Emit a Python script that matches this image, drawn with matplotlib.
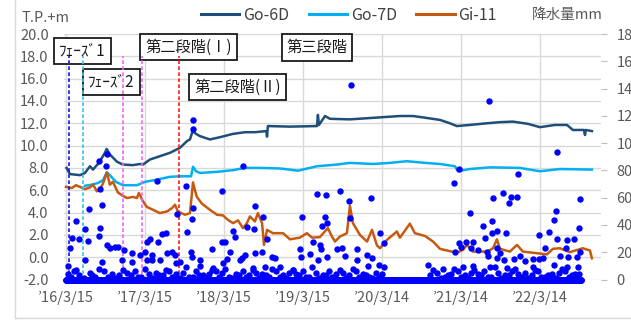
import numpy as np
import pandas as pd
import matplotlib
matplotlib.use('Agg')
import matplotlib.pyplot as plt
from matplotlib.lines import Line2D

plt.rcParams['font.family'] = ['Noto Sans CJK JP', 'DejaVu Sans']

# all days are counted from 2016-03-15
START = pd.Timestamp('2016-03-15')

series_names = ['Go-6D', 'Go-7D', 'Gi-11']
line_colors = ['#1F4E79', '#00B0F0', '#C55A11']

# groundwater level, T.P.+m
go6d_day = [3, 18, 65, 88, 111, 125, 152, 180, 188, 203, 236, 263, 310, 342, 356, 388, 434, 480,
            527, 559, 573, 585, 601, 619, 665, 711, 772, 827, 873, 926, 929, 933, 1035, 1160,
            1164, 1169, 1197, 1220, 1312, 1428, 1543, 1603, 1659, 1728, 1774, 1806, 1866, 1945,
            2005, 2065, 2134, 2190, 2259, 2315, 2342, 2393, 2398, 2402, 2430]
go6d_lvl = [8.0, 7.45, 7.35, 7.55, 8.15, 7.85, 8.45, 9.35, 9.7, 9.2, 8.55, 8.3, 8.25, 8.35, 8.3,
            8.75, 9.05, 9.35, 9.8, 10.4, 10.55, 11.3, 11.05, 10.85, 10.55, 10.75, 11.05, 11.2,
            11.2, 11.3, 10.8, 11.75, 11.7, 11.75, 12.75, 11.85, 12.65, 12.4, 12.35, 12.5, 12.65,
            12.65, 12.5, 12.3, 12.0, 11.75, 11.85, 12.0, 12.1, 12.15, 11.95, 11.65, 11.85, 11.85,
            11.4, 11.4, 10.95, 11.4, 11.3]

go7d_day = [88, 120, 148, 171, 189, 203, 231, 263, 328, 365, 420, 480, 527, 578, 587, 601, 619,
            698, 772, 827, 896, 989, 1072, 1160, 1252, 1312, 1418, 1497, 1575, 1659, 1728, 1797,
            1811, 1866, 1959, 2097, 2190, 2282, 2430]
go7d_lvl = [6.4, 6.5, 6.65, 6.9, 7.6, 7.35, 6.75, 6.45, 6.45, 6.75, 6.95, 7.2, 7.25, 7.25, 8.1,
            7.7, 7.55, 7.65, 7.8, 8.0, 8.0, 7.95, 7.75, 8.15, 8.3, 8.45, 8.35, 8.45, 8.6, 8.45,
            8.35, 8.15, 7.7, 7.9, 8.05, 8.0, 7.7, 7.9, 7.85]

gi11_day = [0, 28, 46, 65, 88, 111, 125, 143, 157, 171, 189, 203, 217, 240, 263, 282, 310, 328,
            337, 356, 374, 402, 434, 467, 490, 504, 517, 550, 573, 587, 596, 605, 628, 665, 698,
            725, 748, 772, 795, 818, 836, 850, 873, 887, 906, 915, 929, 956, 1003, 1035, 1081,
            1113, 1137, 1173, 1210, 1229, 1243, 1266, 1298, 1312, 1326, 1358, 1391, 1414, 1437,
            1451, 1483, 1529, 1543, 1589, 1612, 1659, 1696, 1728, 1760, 1806, 1834, 1853, 1880,
            1945, 1973, 1991, 2005, 2051, 2084, 2111, 2157, 2222, 2250, 2282, 2328, 2388, 2421,
            2430]
gi11_lvl = [6.3, 6.2, 6.45, 6.3, 6.1, 6.25, 6.5, 5.9, 6.1, 6.6, 7.6, 6.5, 6.75, 5.8, 5.5, 5.3,
            5.4, 5.3, 5.75, 5.0, 4.5, 4.25, 3.95, 4.1, 4.4, 4.7, 4.1, 3.8, 3.95, 6.7, 6.0, 5.4,
            4.8, 4.25, 3.8, 3.75, 3.35, 3.05, 3.3, 2.6, 3.05, 3.65, 3.2, 3.95, 3.05, 1.1, 2.45,
            2.15, 2.15, 1.6, 1.75, 2.15, 1.75, 1.8, 2.6, 1.85, 1.4, 1.85, 2.15, 4.6, 3.05, 2.0,
            1.4, 2.45, 1.05, 0.8, 1.55, 2.3, 1.75, 3.0, 2.15, 1.9, 1.4, 0.75, 0.6, 0.4, 0.65, 1.1,
            0.5, 0.5, 0.8, 1.6, 0.75, 0.5, 1.1, 0.5, 0.4, 0.25, 0.75, 0.8, 0.45, 0.8, 0.6, -0.1]

# daily rainfall, mm (days without rain are 0 over the whole record)
dry_first = '2016-03-15'
dry_last = '2022-09-20'
rain_day = [1317, 1956, 2267, 1817, 2090, 1793, 585, 586, 188, 154, 183, 422, 816, 554, 719, 159,
            588, 873, 1158, 1201, 1266, 1307, 1409, 1974, 2020, 2056, 2082, 2048, 2375, 2265, 1866,
            511, 108, 165, 838, 869, 911, 1089, 46, 581, 1197, 1205, 1181, 1312, 927, 1451, 1469,
            1140, 1174, 1177, 1081, 1251, 1274, 1343, 873, 827, 904, 812, 950, 966, 1084, 1127,
            1166, 1207, 1289, 1389, 1413, 1448, 1469, 1397, 989, 1050, 865, 919, 558, 462, 442,
            388, 376, 426, 90, 157, 154, 26, 61, 18, 103, 770, 781, 719, 735, 673, 758, 188, 203,
            226, 242, 269, 304, 365, 342, 396, 434, 465, 488, 504, 576, 581, 527, 619, 742, 678,
            11, 88, 257, 165, 304, 373, 396, 508, 619, 727, 804, 1343,
            2254, 1925, 1967, 1969, 1990, 2033, 2185, 2231, 2371, 2270, 1936, 1818, 1846, 1880,
            1823, 1796, 1870, 1905, 1944, 1951, 1992, 2005, 1990, 2025, 2071, 2097, 2120, 2159,
            2213, 2206, 2187, 2317, 2309, 2347, 2375, 2282, 2320, 2359, 1674, 1744, 1836, 1882,
            1960, 2036, 2159, 2254, 2317, 2367]
rain_mm = [142.6, 130.9, 93.8, 81.2, 77.0, 70.8, 117.2, 110.6, 92.0, 86.7, 83.0, 72.0, 83.0, 68.2,
           65.1, 66.7, 52.2, 54.1, 62.7, 62.2, 65.1, 57.8, 59.5, 60.0, 63.2, 60.7, 60.7, 55.9,
           59.0, 50.4, 48.5, 48.0, 51.7, 54.3, 38.3, 36.8, 46.0, 46.0, 43.1, 44.1, 45.6, 41.2,
           39.5, 44.9, 29.5, 33.9, 26.5, 27.7, 25.3, 22.1, 22.1, 22.1, 23.3, 22.1, 19.6, 18.0,
           20.4, 15.5, 16.7, 15.5, 16.3, 18.7, 14.3, 16.3, 17.2, 18.0, 15.5, 10.6, 8.9, 9.9, 8.9,
           7.0, 8.2, 9.4, 35.0, 34.3, 33.1, 29.5, 27.7, 27.7, 37.2, 37.5, 31.9, 30.2, 29.5, 22.9,
           28.2, 35.8, 31.4, 27.7, 27.7, 22.1, 20.4, 25.3, 22.9, 24.0, 24.0, 21.6, 19.2, 20.4,
           18.0, 18.0, 14.3, 19.2, 20.4, 18.0, 20.4, 16.7, 13.1, 14.3, 14.8, 8.2, 9.9, 14.3, 14.3,
           13.1, 13.1, 14.3, 14.3, 11.9, 9.9, 11.9, 14.3, 14.3,
           43.6, 39.2, 42.9, 33.9, 35.6, 34.3, 32.6, 35.0, 37.5, 29.5, 30.2, 27.0, 27.7, 27.3,
           24.0, 20.4, 22.9, 21.6, 20.4, 17.2, 22.9, 19.6, 15.5, 14.3, 14.8, 17.2, 13.8, 14.8,
           22.9, 15.5, 14.8, 29.0, 22.9, 29.5, 20.4, 17.2, 16.7, 16.7, 10.6, 7.5, 8.9, 9.9, 9.4,
           8.2, 8.9, 10.6, 8.9, 8.9]
# light rain that thickens the band along the bottom
drizzle_day = [9, 37, 60, 111, 134, 176, 213, 245, 282, 319, 347, 383, 416, 448, 476, 508, 541,
               568, 601, 633, 661, 693, 721, 753, 785, 818, 845, 878, 906, 938, 970, 1003, 1030,
               1063, 1095, 1123, 1155, 1187, 1215, 1247, 1280, 1307, 1340, 1372, 1400, 1432, 1460,
               1682, 1714, 1751, 1779, 1811, 1843, 1871, 1903, 1931, 1964, 1996, 2028, 2061, 2088,
               2121, 2153, 2181, 2213, 2245, 2278, 2305, 2338, 2370,
               23, 48, 85, 122, 155, 195, 229, 263, 300, 333, 365, 400, 432, 462, 492, 525, 555,
               585, 617, 647, 677, 707, 737, 769, 801, 832, 862, 892, 922, 954, 987, 1017, 1047,
               1079, 1109, 1139, 1171, 1201, 1231, 1264, 1294, 1324, 1356, 1386, 1416, 1446,
               1698, 1733, 1765, 1795, 1827, 1857, 1887, 1917, 1948, 1980, 2012, 2045, 2075,
               2105, 2137, 2167, 2197, 2229, 2262, 2292, 2322, 2354]
drizzle_mm = [4, 6, 3, 5, 2, 6, 4, 3, 5, 6, 2, 4, 5, 3, 6, 4, 5, 2, 6, 3, 4, 6, 5, 2, 4, 6, 3, 5,
              4, 2, 6, 3, 5, 4, 6, 2, 5, 3, 6, 4, 5, 3, 6, 4, 2, 5, 4,
              3, 5, 2, 4, 6, 3, 5, 4, 6, 2, 5, 3, 6, 4, 5, 3, 6, 2, 4, 5, 6, 3, 4,
              2, 7, 1, 3, 8, 2, 1, 7, 3, 2, 8, 1, 3, 7, 2, 1, 9, 2, 3, 1, 7, 2, 8, 1, 3, 2, 7,
              1, 3, 8, 2, 1, 7, 3, 2, 9, 1, 3, 2, 7, 1, 8, 2, 3, 1,
              2, 7, 1, 3, 8, 2, 1, 7, 3, 2, 9, 1, 3, 8, 2, 1, 7, 2, 3, 1, 8, 2, 4]

# construction phases: dashed markers and labelled boxes
phase_day = [15, 80, 265, 353, 522]
phase_colors = ['#1414E6', '#33C3F0', '#F266F2', '#F266F2', '#FF1A1A']
label_text = ['ﾌｪｰｽﾞ1', 'ﾌｪｰｽﾞ2', '第二段階(Ⅰ)', '第二段階(Ⅱ)', '第三段階']
label_day = [76, 210, 566, 792, 1160]
label_lvl = [18.48, 15.7, 18.84, 15.25, 18.8]

tick_dates = ['2016-03-15', '2017-03-15', '2018-03-15', '2019-03-15',
              '2020-03-14', '2021-03-14', '2022-03-14']
tick_labels = ['’16/3/15', '’17/3/15', '’18/3/15', '’19/3/15',
               '’20/3/14', '’21/3/14', '’22/3/14']


def to_dates(days):
    return START + pd.to_timedelta(np.asarray(days), unit='D')


W, H = 631, 322
fig = plt.figure(figsize=(W / 100, H / 100), dpi=100)
ax = fig.add_axes([64 / W, 1 - 279.5 / H, (601 - 64) / W, (279.5 - 34) / H])
ax2 = ax.twinx()

ax.set_xlim(START - pd.Timedelta(days=9), START + pd.Timedelta(days=2472))
ax.set_ylim(-2, 20)
ax2.set_ylim(0, 180)

ax.grid(True, color='#D9D9D9', lw=1)
ax.set_axisbelow(True)

for days, lvls, c in zip([go6d_day, go7d_day, gi11_day], [go6d_lvl, go7d_lvl, gi11_lvl], line_colors):
    ax.plot(to_dates(days), lvls, color=c, lw=1.8, zorder=2)

ax.vlines(to_dates(phase_day), -2, 18, colors=phase_colors, linestyles=(0, (2.2, 1.4)),
          lw=1.2, zorder=5)

for txt, d, v in zip(label_text, label_day, label_lvl):
    ax.text(to_dates([d])[0], v, txt, ha='center', va='center', fontsize=11, color='#1a1a1a',
            zorder=4, bbox=dict(boxstyle='square,pad=0.32', fc='white', ec='#1a1a1a', lw=1.3))

dry = pd.date_range(dry_first, dry_last, freq='D')
ax2.plot(dry, np.zeros(len(dry)), 'o', ms=4.6, mew=0, color='#0000FF', clip_on=False)
ax2.plot(to_dates(drizzle_day), drizzle_mm, 'o', ms=4.6, mew=0, color='#0000FF', clip_on=False)
ax2.plot(to_dates(rain_day), rain_mm, 'o', ms=4.6, mew=0, color='#0000FF', clip_on=False)

ax.set_yticks(np.arange(-2, 20.1, 2))
ax.set_yticklabels([f'{v:.1f}' for v in np.arange(-2, 20.1, 2)])
ax.set_xticks(pd.to_datetime(tick_dates))
ax.set_xticklabels(tick_labels)
ax.tick_params(axis='y', length=0, pad=11, labelsize=10.5, labelcolor='#595959')
ax.tick_params(axis='x', length=0, pad=8, labelsize=10.5, labelcolor='#595959')
ax2.set_yticks(range(0, 181, 20))
ax2.tick_params(axis='y', direction='out', length=4, width=0.8, color='#BFBFBF', pad=7,
                labelsize=10.5, labelcolor='#595959')
for a in (ax, ax2):
    for s in a.spines.values():
        s.set_visible(False)

handles = [Line2D([], [], color=c, lw=2.2) for c in line_colors]
fig.legend(handles, series_names, loc='center', bbox_to_anchor=(349 / W, 1 - 15 / H), ncol=3,
           frameon=False, fontsize=11.5, handlelength=2.4, handletextpad=0.25,
           columnspacing=1.2, labelcolor='#404040', borderpad=0)
fig.text(45 / W, 1 - 18 / H, 'T.P.+m', ha='center', va='center', fontsize=10.5, color='#595959')
fig.text(567 / W, 1 - 15 / H, '降水量mm', ha='center', va='center', fontsize=10.5, color='#595959')

# chart area border
fig.add_artist(Line2D([15 / W, 15 / W], [1 - 318 / H, 1], transform=fig.transFigure,
                      color='#D9D9D9', lw=1))
fig.add_artist(Line2D([15 / W, 1], [1 - 318 / H, 1 - 318 / H], transform=fig.transFigure,
                      color='#D9D9D9', lw=1))

fig.savefig('out.png', dpi=100)
